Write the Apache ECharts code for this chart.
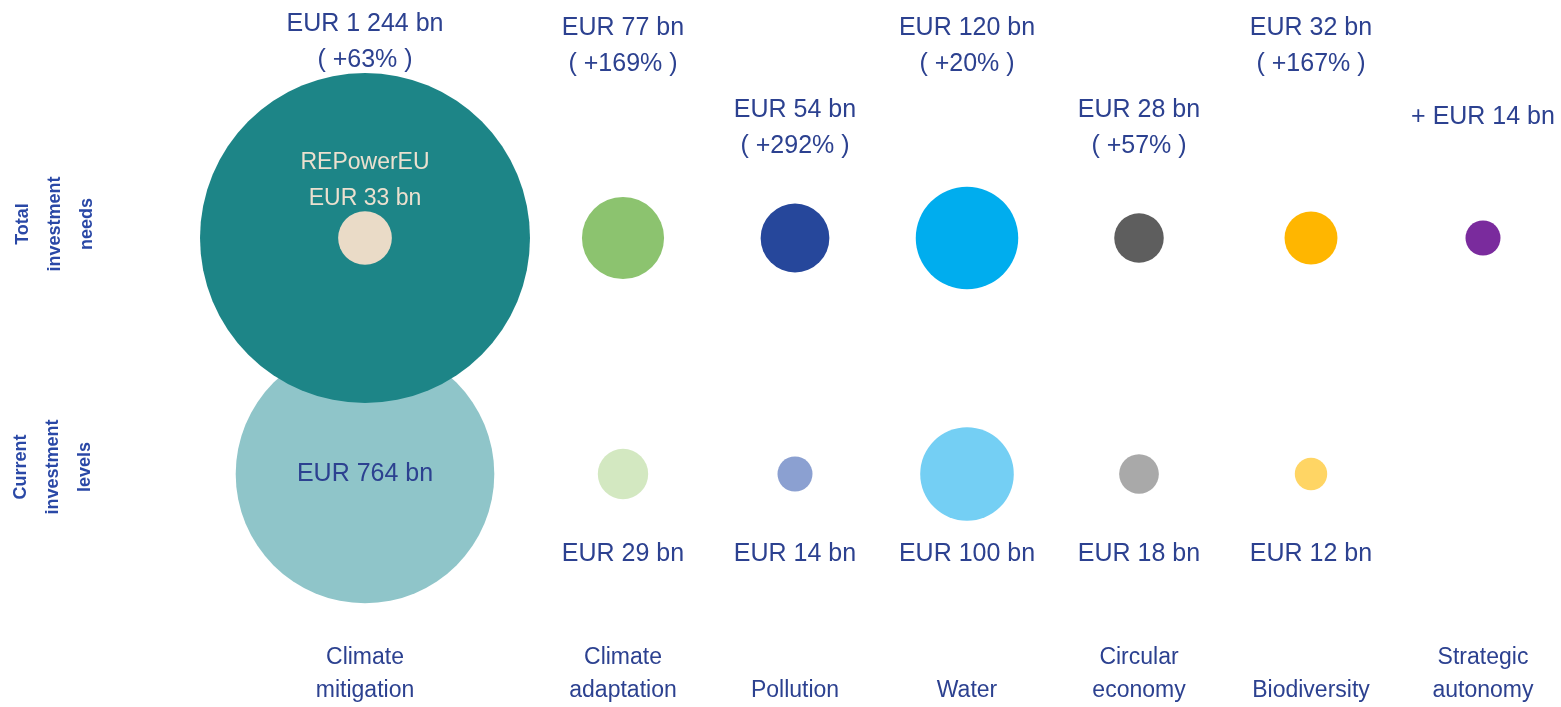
<!DOCTYPE html>
<html>
<head>
<meta charset="utf-8">
<script src="https://cdn.jsdelivr.net/npm/echarts@6/dist/echarts.min.js"></script>
<style>
  html, body { margin: 0; padding: 0; background: #ffffff; }
  #chart { width: 1561px; height: 707px; }
</style>
</head>
<body>
<div id="chart"></div>
<script>
// ---------- data ----------
const categories = ['Climate\nmitigation', 'Climate\nadaptation', 'Pollution', 'Water', 'Circular\neconomy', 'Biodiversity', 'Strategic\nautonomy'];
const totalNeeds = [1244, 77, 54, 120, 28, 32, 14];            // EUR bn
const totalLabels = ['EUR 1 244 bn\n( +63% )', 'EUR 77 bn\n( +169% )', 'EUR 54 bn\n( +292% )', 'EUR 120 bn\n( +20% )', 'EUR 28 bn\n( +57% )', 'EUR 32 bn\n( +167% )', '+ EUR 14 bn'];
const currentLevels = [764, 29, 14, 100, 18, 12, null];        // EUR bn
const currentLabels = ['EUR 764 bn', 'EUR 29 bn', 'EUR 14 bn', 'EUR 100 bn', 'EUR 18 bn', 'EUR 12 bn', ''];
const repowerValue = 33;                                       // EUR bn, part of climate mitigation
const repowerLabel = 'REPowerEU\nEUR 33 bn';
const rowLabels = ['Total\ninvestment\nneeds', 'Current\ninvestment\nlevels'];

// ---------- styles ----------
const totalColors = ['#1d8587', '#8cc36f', '#26479b', '#00adee', '#5e5e5e', '#ffb600', '#7a2b9d'];
const currentColors = ['#8fc5c9', '#d3e8c1', '#8ba0d1', '#74cff4', '#a9a9a9', '#ffd564', '#ffffff'];
const repowerColor = '#eadbc7';
const textColor = '#2c4190';
const FONT = 'Liberation Sans';

// layout: climate mitigation gets extra room, then one unit per category
const xPos = categories.map((c, i) => (i === 0 ? 0 : i + 0.5));
const ROW_TOTAL = 1, ROW_CURRENT = 0;
const sizeK = 330 / Math.sqrt(1244);             // bubble area proportional to value
const bubbleSize = v => sizeK * Math.sqrt(v);

// top of the "total" label blocks (pixels from chart top), staggered
const totalLabelTop = [6, 10, 92, 10, 92, 10, 99];
const ROW_TOTAL_PX = 238;

const totalData = totalNeeds.map((v, i) => ({
  value: [xPos[i], ROW_TOTAL, v],
  itemStyle: { color: totalColors[i], opacity: 1 },
  label: {
    show: true,
    formatter: totalLabels[i],
    position: 'inside',
    verticalAlign: 'top',
    align: 'center',
    offset: [0, totalLabelTop[i] - ROW_TOTAL_PX],
    color: textColor,
    fontSize: 25,
    lineHeight: 36,
    fontFamily: FONT
  }
}));

const currentData = [];
currentLevels.forEach((v, i) => {
  if (v == null) return;
  currentData.push({
    value: [xPos[i], ROW_CURRENT, v],
    itemStyle: { color: currentColors[i], opacity: 1 },
    label: {
      show: true,
      formatter: currentLabels[i],
      position: 'inside',
      align: 'center',
      verticalAlign: 'middle',
      offset: [0, i === 0 ? 0 : 80],
      color: textColor,
      fontSize: 25,
      fontFamily: FONT
    }
  });
});

const repowerData = [{
  value: [xPos[0], ROW_TOTAL, repowerValue],
  itemStyle: { color: repowerColor, opacity: 1 },
  label: {
    show: true,
    formatter: repowerLabel,
    position: 'inside',
    align: 'center',
    verticalAlign: 'middle',
    offset: [0, -57],
    color: '#ece0cf',
    fontSize: 23,
    lineHeight: 36,
    fontFamily: FONT
  }
}];

const chart = echarts.init(document.getElementById('chart'), null, { renderer: 'canvas' });

const option = {
  backgroundColor: '#ffffff',
  animation: false,
  grid: { left: 193, top: 120, width: 172 * 7.9, height: 472, containLabel: false },
  xAxis: {
    type: 'value',
    min: -1,
    max: 6.9,
    axisLine: { show: false },
    axisTick: { show: false },
    splitLine: { show: false },
    axisLabel: {
      show: true,
      customValues: xPos,
      formatter: v => {
        const idx = xPos.findIndex(p => Math.abs(p - v) < 1e-6);
        return idx >= 0 ? categories[idx] : '';
      },
      verticalAlign: 'bottom',
      margin: 115,
      color: textColor,
      fontSize: 23,
      lineHeight: 33,
      fontFamily: FONT,
      hideOverlap: false
    }
  },
  yAxis: {
    type: 'value',
    min: -0.5,
    max: 1.5,
    show: false
  },
  graphic: [
    {
      type: 'text', x: 55, y: 224, rotation: Math.PI / 2,
      style: { text: rowLabels[0], font: 'bold 18px "' + FONT + '"', fill: '#2a48a6', align: 'center', verticalAlign: 'middle', lineHeight: 32 }
    },
    {
      type: 'text', x: 53, y: 467, rotation: Math.PI / 2,
      style: { text: rowLabels[1], font: 'bold 18px "' + FONT + '"', fill: '#2a48a6', align: 'center', verticalAlign: 'middle', lineHeight: 32 }
    }
  ],
  series: [
    {
      name: 'Current investment levels',
      type: 'scatter',
      z: 2,
      symbol: 'circle',
      symbolSize: val => bubbleSize(val[2]),
      itemStyle: { opacity: 1 },
      emphasis: { disabled: true },
      data: currentData
    },
    {
      name: 'Total investment needs',
      type: 'scatter',
      z: 3,
      symbol: 'circle',
      symbolSize: val => bubbleSize(val[2]),
      itemStyle: { opacity: 1 },
      emphasis: { disabled: true },
      data: totalData
    },
    {
      name: 'REPowerEU',
      type: 'scatter',
      z: 4,
      symbol: 'circle',
      symbolSize: val => bubbleSize(val[2]),
      itemStyle: { opacity: 1 },
      emphasis: { disabled: true },
      data: repowerData
    }
  ]
};
chart.setOption(option);
</script>
</body>
</html>
